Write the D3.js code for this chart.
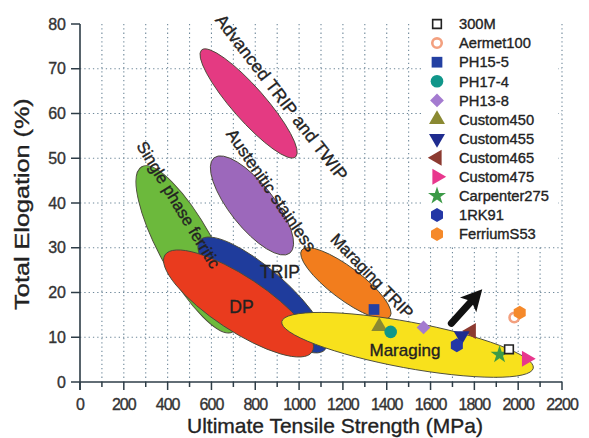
<!DOCTYPE html>
<html>
<head>
<meta charset="utf-8">
<script src="https://cdn.jsdelivr.net/npm/d3@7"></script>
<style>
  body { margin: 0; background: #fff; }
  svg { display: block; font-family: Arial, "Liberation Sans", sans-serif; }
  text { stroke-width: 0.35px; }
</style>
</head>
<body>
<svg id="chart" width="589" height="438"></svg>
<script>
// steel grades (markers)
const grades = ['300M', 'Aermet100', 'PH15-5', 'PH17-4', 'PH13-8', 'Custom450', 'Custom455',
  'Custom465', 'Custom475', 'Carpenter275', '1RK91', 'FerriumS53'];
const gradeUts = [1958, 1982, 1342, 1418, 1568, 1366, 1742, 1786, 2038, 1915, 1720, 2007];
const gradeElong = [7.3, 14.4, 16.2, 11.2, 12.2, 12.4, 10.3, 11.4, 5.2, 6.1, 8.2, 15.5];

// steel families (ellipses), major axis runs from point 0 to point 1
const regions = ['Advanced TRIP and TWIP', 'Austenitic stainless', 'Single phase ferritic',
  'TRIP', 'DP', 'Maraging TRIP', 'Maraging'];
const regionUts0 = [555, 612, 282, 548, 388, 1012, 921];
const regionElong0 = [74.2, 50.1, 48.1, 31.7, 28.4, 29.5, 13.5];
const regionUts1 = [984, 958, 698, 1118, 1059, 1415, 2069];
const regionElong1 = [50.3, 28.8, 11.2, 7.2, 6.7, 14.6, 3.1];

// where each family name is written
const labelUts = [920, 874, 450, 913, 737, 1333, 1483];
const labelElong = [63.6, 42.9, 39.6, 24.6, 16.8, 23.7, 7.2];

// trend arrow
const arrowUts = [1695, 1836];
const arrowElong = [13.1, 20.7];

const xTicks = d3.range(0, 2201, 200);
const yTicks = d3.range(0, 81, 10);

const svg = d3.select('#chart');
const x = d3.scaleLinear().domain([0, 2200]).range([80, 562]);
const y = d3.scaleLinear().domain([0, 80]).range([382, 24]);

const regionFill = ['#e43a82', '#9c68bb', '#6cb93c', '#1f3c9c', '#e93b1e', '#f27d1d', '#f8e11c'];
const regionHalfWidth = [16.5, 22, 27, 25, 27, 16, 23];
const labelAngle = [52.4, 55.4, 58.8, 0, 0, 46, 0];
const labelSize = [17.5, 17, 16.5, 17.5, 17.5, 16.5, 17];

// grid
const grid = svg.append('g')
    .attr('stroke', '#6d8799')
    .attr('stroke-width', 1.1)
    .attr('stroke-dasharray', '1.3,3');

grid.selectAll('.vg')
    .data(d3.range(100, 2201, 100))
    .enter().append('line')
    .attr('x1', d => x(d)).attr('x2', d => x(d))
    .attr('y1', y(80)).attr('y2', y(0));

grid.selectAll('.hg')
    .data(d3.range(10, 71, 10))
    .enter().append('line')
    .attr('x1', x(0)).attr('x2', x(2200))
    .attr('y1', d => y(d)).attr('y2', d => y(d));

// ellipses
const ell = svg.append('g');
regions.forEach((name, i) => {
  const x0 = x(regionUts0[i]), y0 = y(regionElong0[i]);
  const x1 = x(regionUts1[i]), y1 = y(regionElong1[i]);
  const cx = (x0 + x1) / 2, cy = (y0 + y1) / 2;
  const a = Math.hypot(x1 - x0, y1 - y0) / 2;
  const ang = Math.atan2(y1 - y0, x1 - x0) * 180 / Math.PI;
  ell.append('ellipse')
      .attr('rx', a)
      .attr('ry', regionHalfWidth[i])
      .attr('transform', 'translate(' + cx + ',' + cy + ') rotate(' + ang + ')')
      .attr('fill', regionFill[i])
      .attr('stroke', '#4a4a3a')
      .attr('stroke-width', 0.9);
});

// arrow
const tx = x(arrowUts[0]), ty = y(arrowElong[0]);
const px = x(arrowUts[1]), py = y(arrowElong[1]);
const len = Math.hypot(px - tx, py - ty);
const ux = (px - tx) / len, uy = (py - ty) / len;
const nx = -uy, ny = ux;
const bx = px - ux * 21, by = py - uy * 21;
svg.append('line')
    .attr('x1', tx).attr('y1', ty)
    .attr('x2', bx + ux * 4).attr('y2', by + uy * 4)
    .attr('stroke', '#111')
    .attr('stroke-width', 7)
    .attr('stroke-linecap', 'round');
svg.append('path')
    .attr('d', 'M' + px + ',' + py +
      'L' + (bx + nx * 11) + ',' + (by + ny * 11) +
      'L' + (bx + ux * 5) + ',' + (by + uy * 5) +
      'L' + (bx - nx * 11) + ',' + (by - ny * 11) + 'Z')
    .attr('fill', '#111');

// family labels
svg.append('g').selectAll('text')
    .data(regions)
    .enter().append('text')
    .attr('transform', (d, i) => 'translate(' + x(labelUts[i]) + ',' + y(labelElong[i]) + ') rotate(' + labelAngle[i] + ')')
    .attr('text-anchor', 'middle')
    .attr('dy', '0.35em')
    .attr('font-size', (d, i) => labelSize[i])
    .attr('fill', '#222')
    .attr('stroke', '#222')
    .text(d => d);

// markers
const hexagon = {
  draw(context, size) {
    const r = Math.sqrt(size / 2.598);
    for (let k = 0; k < 6; k++) {
      const t = Math.PI / 3 * k - Math.PI / 2;
      if (k === 0) context.moveTo(r * Math.cos(t), r * Math.sin(t));
      else context.lineTo(r * Math.cos(t), r * Math.sin(t));
    }
    context.closePath();
  }
};
const markerType = [d3.symbolSquare, d3.symbolCircle, d3.symbolSquare, d3.symbolCircle, d3.symbolSquare,
  d3.symbolTriangle, d3.symbolTriangle, d3.symbolTriangle, d3.symbolTriangle, d3.symbolStar, hexagon, hexagon];
const markerRot = [0, 0, 0, 0, 45, 0, 180, -90, 90, 0, 0, 0];
const markerSize = [75, 70, 115, 125, 95, 110, 110, 110, 110, 100, 125, 125];
const markerFill = ['#fff', 'none', '#2340a2', '#10968a', '#a47bd0', '#8a8932', '#1f2c8f', '#8c3a30', '#e8378d', '#3c9a47', '#2437a6', '#f5892a'];
const markerStroke = ['#222', '#f3a07f', 'none', 'none', 'none', 'none', 'none', 'none', 'none', 'none', 'none', 'none'];
const markerStrokeW = [1.6, 2.6, 0, 0, 0, 0, 0, 0, 0, 0, 0, 0];

function marker(g, i, mx, my) {
  g.append('path')
      .attr('d', d3.symbol().type(markerType[i]).size(markerSize[i])())
      .attr('transform', 'translate(' + mx + ',' + my + ') rotate(' + markerRot[i] + ')')
      .attr('fill', markerFill[i])
      .attr('stroke', markerStroke[i])
      .attr('stroke-width', markerStrokeW[i]);
}

const pts = svg.append('g');
// draw so the ones in front in the picture come last
[1, 11, 2, 5, 3, 4, 7, 6, 10, 9, 0, 8].forEach(i => marker(pts, i, x(gradeUts[i]), y(gradeElong[i])));

// legend
const lg = svg.append('g');
lg.append('rect')
    .attr('x', 424).attr('y', 8)
    .attr('width', 134).attr('height', 237)
    .attr('fill', '#fff');
grades.forEach((g, i) => {
  const ry = 24 + i * 19.1;
  marker(lg, i, 437, ry);
  lg.append('text')
      .attr('x', 459).attr('y', ry)
      .attr('dy', '0.36em')
      .attr('font-size', 14.7)
      .attr('fill', '#222')
      .attr('stroke', '#222')
      .text(g);
});

// axes
const ax = svg.append('g')
    .attr('transform', 'translate(0,' + y(0) + ')');
ax.append('line')
    .attr('x1', x(0)).attr('x2', x(2200))
    .attr('stroke', '#2e3d47').attr('stroke-width', 1.6);
ax.selectAll('.xt')
    .data(d3.range(0, 2201, 100))
    .enter().append('line')
    .attr('x1', d => x(d)).attr('x2', d => x(d))
    .attr('y1', 0).attr('y2', d => d % 200 === 0 ? 8 : 5)
    .attr('stroke', '#2e3d47').attr('stroke-width', 1.5);
ax.selectAll('.xl')
    .data(xTicks)
    .enter().append('text')
    .attr('x', d => x(d)).attr('y', 22)
    .attr('dy', '0.35em')
    .attr('text-anchor', 'middle')
    .attr('font-size', 16)
    .attr('letter-spacing', -1)
    .attr('fill', '#333')
    .attr('stroke', '#333')
    .text(d => d);

const ay = svg.append('g')
    .attr('transform', 'translate(' + x(0) + ',0)');
ay.append('line')
    .attr('y1', y(80)).attr('y2', y(0) + 8)
    .attr('stroke', '#2e3d47').attr('stroke-width', 1.6);
ay.selectAll('.yt')
    .data(yTicks)
    .enter().append('line')
    .attr('x1', -9).attr('x2', 0)
    .attr('y1', d => y(d)).attr('y2', d => y(d))
    .attr('stroke', '#2e3d47').attr('stroke-width', 1.5);
ay.selectAll('.yl')
    .data(yTicks)
    .enter().append('text')
    .attr('x', -14).attr('y', d => y(d))
    .attr('dy', '0.35em')
    .attr('text-anchor', 'end')
    .attr('font-size', 16)
    .attr('fill', '#333')
    .attr('stroke', '#333')
    .text(d => d);

// axis titles
svg.append('text')
    .attr('x', 335).attr('y', 433)
    .attr('text-anchor', 'middle')
    .attr('font-size', 21)
    .attr('fill', '#222')
    .attr('stroke', '#222')
    .text('Ultimate Tensile Strength (MPa)');
svg.append('text')
    .attr('transform', 'translate(29,204) rotate(-90) scale(1.2,1)')
    .attr('text-anchor', 'middle')
    .attr('font-size', 21)
    .attr('fill', '#222')
    .attr('stroke', '#222')
    .text('Total Elogation (%)');
</script>
</body>
</html>
